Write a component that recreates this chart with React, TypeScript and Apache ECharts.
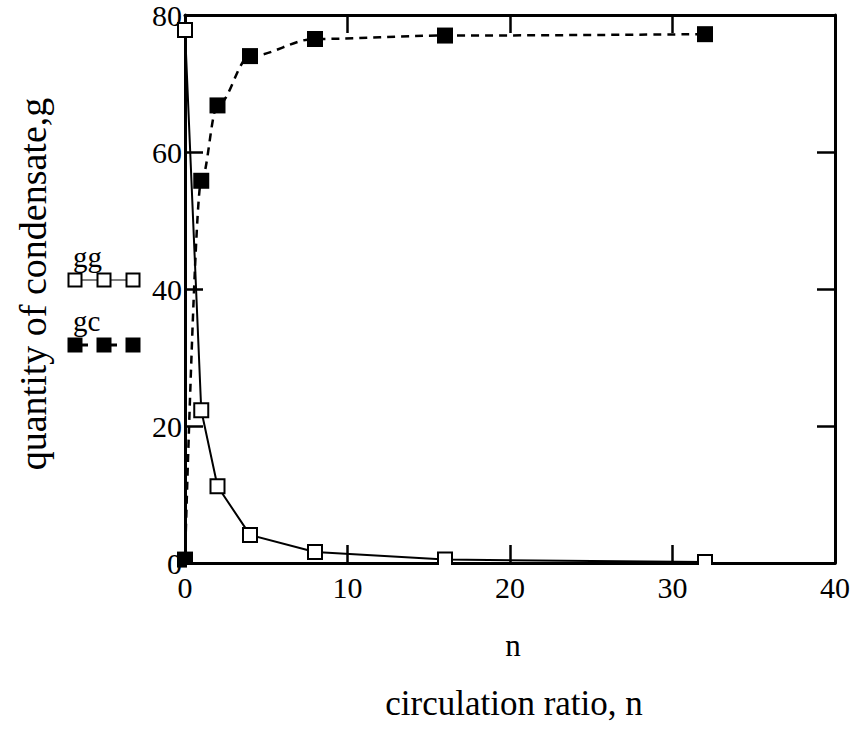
import React, { useEffect, useRef } from "react";
import * as echarts from "echarts";

// circulation ratio n
const nValues = [0, 1, 2, 4, 8, 16, 32];
// gg (open squares, solid line)
const ggValues = [77.8, 22.3, 11.2, 4.1, 1.6, 0.5, 0.15];
// gc (filled squares, dashed line)
const gcValues = [0.5, 55.8, 66.8, 74.0, 76.5, 77.0, 77.2];

const xMin = 0;
const xMax = 40;
const xInterval = 10;
const yMin = 0;
const yMax = 80;
const yInterval = 20;

const seriesNames = ["gg", "gc"];
const xAxisTitle = "n";
const bottomTitle = "circulation ratio, n";
const yAxisTitle = "quantity of condensate,g";

const FONT = '"Liberation Serif", "Times New Roman", serif';

export default function App() {
  const ref = useRef<HTMLDivElement>(null);

  useEffect(() => {
    if (!ref.current) return;
    const chart = echarts.init(ref.current, null, { renderer: "svg" });

    const ggData = nValues.map((n, i) => [n, ggValues[i]]);
    const gcData = nValues.map((n, i) => [n, gcValues[i]]);

    const gridL = 185, gridT = 14, gridR = 835, gridB = 563;

    const axisCommon = {
      type: "value" as const,
      axisLine: { show: true, onZero: false, lineStyle: { color: "#000", width: 3 } },
      axisTick: { show: true, inside: true, length: 18, lineStyle: { color: "#000", width: 2.5 } },
      splitLine: { show: false },
    };

    const legendSquaresX = [75, 104, 133];

    const option: any = {
      animation: false,
      backgroundColor: "#fff",
      grid: { left: gridL, top: gridT, right: 860 - gridR, bottom: 731 - gridB, containLabel: false },
      xAxis: [
        {
          ...axisCommon,
          position: "bottom",
          min: xMin,
          max: xMax,
          interval: xInterval,
          axisLabel: { color: "#000", fontSize: 30, fontFamily: FONT, margin: 9 },
        },
        {
          ...axisCommon,
          position: "top",
          min: xMin,
          max: xMax,
          interval: xInterval,
          axisLabel: { show: false },
        },
      ],
      yAxis: [
        {
          ...axisCommon,
          position: "left",
          min: yMin,
          max: yMax,
          interval: yInterval,
          axisLabel: { color: "#000", fontSize: 30, fontFamily: FONT, margin: 3 },
        },
        {
          ...axisCommon,
          position: "right",
          min: yMin,
          max: yMax,
          interval: yInterval,
          axisLabel: { show: false },
        },
      ],
      series: [
        {
          name: seriesNames[0],
          type: "line",
          xAxisIndex: 0,
          yAxisIndex: 0,
          data: ggData,
          symbol: "rect",
          symbolSize: 14,
          lineStyle: { color: "#000", width: 2, type: "solid" },
          itemStyle: { color: "#fff", borderColor: "#000", borderWidth: 2 },
          clip: false,
          z: 3,
        },
        {
          name: seriesNames[1],
          type: "line",
          xAxisIndex: 0,
          yAxisIndex: 0,
          data: gcData,
          symbol: "rect",
          symbolSize: 16,
          smooth: 0.35,
          smoothMonotone: "x",
          lineStyle: { color: "#000", width: 2.5, type: [8, 6] },
          itemStyle: { color: "#000", borderColor: "#000", borderWidth: 0 },
          clip: false,
          z: 3,
        },
      ],
      graphic: [
        // hide the parts of the markers that fall below the x axis
        {
          type: "rect",
          shape: { x: gridL + 2, y: gridB + 2, width: gridR - gridL - 4, height: 9 },
          style: { fill: "#fff" },
          z: 100,
        },
        // y axis title
        {
          type: "text",
          x: 33,
          y: 284,
          rotation: Math.PI / 2,
          style: {
            text: yAxisTitle,
            fontSize: 38,
            fontFamily: FONT,
            fill: "#000",
            align: "center",
            verticalAlign: "middle",
          },
        },
        // x axis name
        {
          type: "text",
          x: 513,
          y: 645,
          style: {
            text: xAxisTitle,
            fontSize: 31,
            fontFamily: FONT,
            fill: "#000",
            align: "center",
            verticalAlign: "middle",
          },
        },
        // bottom title
        {
          type: "text",
          x: 514,
          y: 703,
          style: {
            text: bottomTitle,
            fontSize: 35,
            fontFamily: FONT,
            fill: "#000",
            align: "center",
            verticalAlign: "middle",
          },
        },
        // legend: gg
        {
          type: "text",
          x: 73,
          y: 257,
          style: {
            text: seriesNames[0],
            fontSize: 29,
            fontFamily: FONT,
            fill: "#000",
            align: "left",
            verticalAlign: "middle",
          },
        },
        {
          type: "line",
          shape: { x1: 68, y1: 280, x2: 139, y2: 280 },
          style: { stroke: "#000", lineWidth: 1 },
        },
        ...legendSquaresX.map((cx) => ({
          type: "rect",
          shape: { x: cx - 6.5, y: 273.5, width: 13, height: 13 },
          style: { fill: "#fff", stroke: "#000", lineWidth: 2 },
          z: 10,
        })),
        // legend: gc
        {
          type: "text",
          x: 73,
          y: 321,
          style: {
            text: seriesNames[1],
            fontSize: 29,
            fontFamily: FONT,
            fill: "#000",
            align: "left",
            verticalAlign: "middle",
          },
        },
        ...legendSquaresX.slice(0, 2).map((cx) => ({
          type: "line",
          shape: { x1: cx + 6, y1: 345, x2: cx + 13, y2: 345 },
          style: { stroke: "#000", lineWidth: 3 },
        })),
        ...legendSquaresX.map((cx) => ({
          type: "rect",
          shape: { x: cx - 7.5, y: 337.5, width: 15, height: 15 },
          style: { fill: "#000" },
          z: 10,
        })),
      ],
    };

    chart.setOption(option);
    return () => chart.dispose();
  }, []);

  return (
    <div
      ref={ref}
      style={{ position: "absolute", left: 0, top: 0, width: 860, height: 731 }}
    />
  );
}
